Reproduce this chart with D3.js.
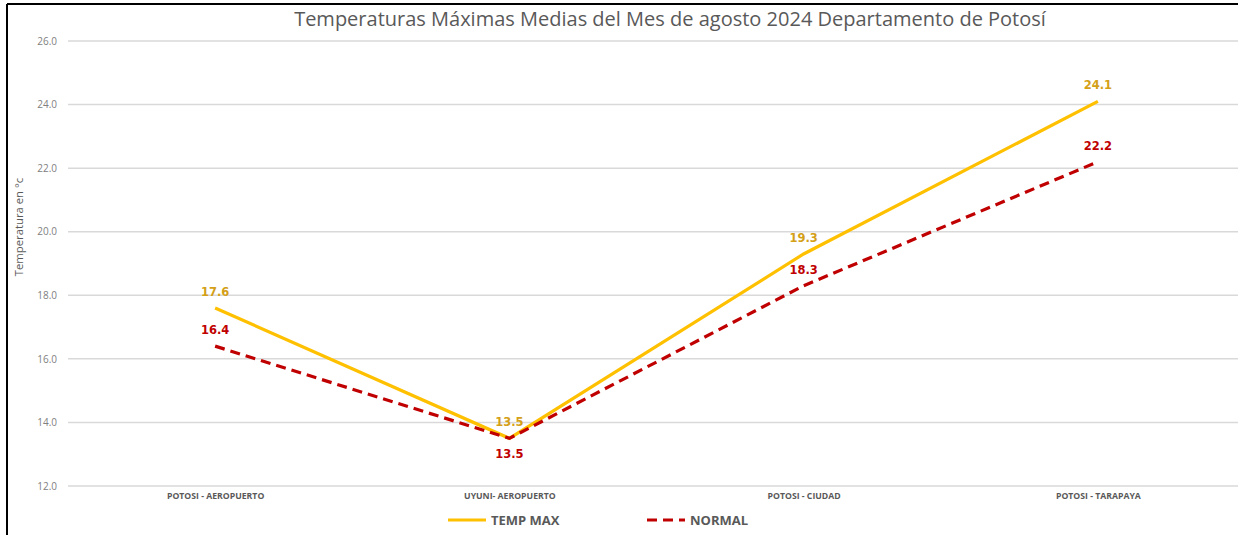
<!DOCTYPE html>
<html>
<head>
<meta charset="utf-8">
<script src="https://cdn.jsdelivr.net/npm/d3@7"></script>
<style>
  body { margin: 0; background: #fff; }
  svg { display: block; font-family: "Open Sans", "Noto Sans", sans-serif; }
</style>
</head>
<body>
<svg id="chart"></svg>
<script>
const estaciones = ["POTOSI - AEROPUERTO", "UYUNI- AEROPUERTO", "POTOSI - CIUDAD", "POTOSI - TARAPAYA"];
const tempMax = [17.6, 13.5, 19.3, 24.1];
const normal = [16.4, 13.5, 18.3, 22.2];
const yTicks = [12, 14, 16, 18, 20, 22, 24, 26];

const width = 1238, height = 535;
const margin = { top: 41, right: -7, bottom: 49, left: 68 };

const svg = d3.select("#chart")
    .attr("width", width)
    .attr("height", height);

// frame (top and left edges only, as in the picture)
svg.append("line")
    .attr("x1", 7).attr("x2", width).attr("y1", 4).attr("y2", 4)
    .attr("stroke", "#000").attr("stroke-width", 2);
svg.append("line")
    .attr("x1", 7).attr("x2", 7).attr("y1", 4).attr("y2", height)
    .attr("stroke", "#000").attr("stroke-width", 2);

const x = d3.scalePoint()
    .domain(estaciones)
    .range([margin.left, width - margin.right])
    .padding(0.5);

const y = d3.scaleLinear()
    .domain([12, 26])
    .range([height - margin.bottom, margin.top]);

// grid
svg.append("g")
    .selectAll("line")
    .data(yTicks)
    .join("line")
    .attr("x1", margin.left)
    .attr("x2", width)
    .attr("y1", d => y(d))
    .attr("y2", d => y(d))
    .attr("stroke", "#d9d9d9")
    .attr("stroke-width", 1.5);

// y axis labels
const yAxis = svg.append("g")
    .attr("transform", `translate(${margin.left},0)`)
    .call(d3.axisLeft(y).tickValues(yTicks).tickFormat(d3.format(".1f")).tickSize(0).tickPadding(11));
yAxis.select(".domain").remove();
yAxis.selectAll("text")
    .attr("fill", "#808080")
    .style("font-size", "10px")
    .style("font-family", "'Open Sans', sans-serif");

// x axis labels
const xAxis = svg.append("g")
    .attr("transform", `translate(0,${height - margin.bottom})`)
    .call(d3.axisBottom(x).tickSize(0).tickPadding(7));
xAxis.select(".domain").remove();
xAxis.selectAll("text")
    .attr("fill", "#595959")
    .style("font-size", "8.7px")
    .style("font-weight", "bold")
    .style("font-family", "'Open Sans', sans-serif");

// title
svg.append("text")
    .attr("x", 670)
    .attr("y", 26)
    .attr("text-anchor", "middle")
    .attr("fill", "#595959")
    .style("font-size", "20px")
    .text("Temperaturas Máximas Medias del Mes de agosto 2024 Departamento de Potosí");

// y title
svg.append("text")
    .attr("transform", `translate(23,${227}) rotate(-90)`)
    .attr("text-anchor", "middle")
    .attr("fill", "#595959")
    .style("font-size", "11.3px")
    .text("Temperatura en °c");

const line = d3.line()
    .x((d, i) => x(estaciones[i]))
    .y(d => y(d));

svg.append("path")
    .datum(tempMax)
    .attr("fill", "none")
    .attr("stroke", "#ffc000")
    .attr("stroke-width", 3.2)
    .attr("d", line);

svg.append("path")
    .datum(normal)
    .attr("fill", "none")
    .attr("stroke", "#c00000")
    .attr("stroke-width", 3.2)
    .attr("stroke-dasharray", "10,6")
    .attr("d", line);

// data labels
svg.append("g")
    .selectAll("text")
    .data(tempMax)
    .join("text")
    .attr("x", (d, i) => x(estaciones[i]))
    .attr("y", d => y(d) - 12)
    .attr("text-anchor", "middle")
    .attr("fill", "#d4a017")
    .style("font-size", "11.5px")
    .style("font-weight", "bold")
    .style("font-family", "'DejaVu Sans', sans-serif")
    .text(d => d.toFixed(1));

svg.append("g")
    .selectAll("text")
    .data(normal)
    .join("text")
    .attr("x", (d, i) => x(estaciones[i]))
    // put the label under the point when both series meet
    .attr("y", (d, i) => d === tempMax[i] ? y(d) + 20 : y(d) - 12)
    .attr("text-anchor", "middle")
    .attr("fill", "#c00000")
    .style("font-size", "11.5px")
    .style("font-weight", "bold")
    .style("font-family", "'DejaVu Sans', sans-serif")
    .text(d => d.toFixed(1));

// legend
const legend = [
    { name: "TEMP MAX", color: "#ffc000", dash: null, x: 448 },
    { name: "NORMAL", color: "#c00000", dash: "10,6", x: 647 }
];
const lg = svg.append("g")
    .selectAll("g")
    .data(legend)
    .join("g")
    .attr("transform", d => `translate(${d.x},520)`);
lg.append("line")
    .attr("x1", 0).attr("x2", 38)
    .attr("stroke", d => d.color)
    .attr("stroke-width", 3.2)
    .attr("stroke-dasharray", d => d.dash);
lg.append("text")
    .attr("x", 43)
    .attr("y", 4.5)
    .attr("fill", "#595959")
    .style("font-size", "13px")
    .style("font-weight", "bold")
    .text(d => d.name);
</script>
</body>
</html>
